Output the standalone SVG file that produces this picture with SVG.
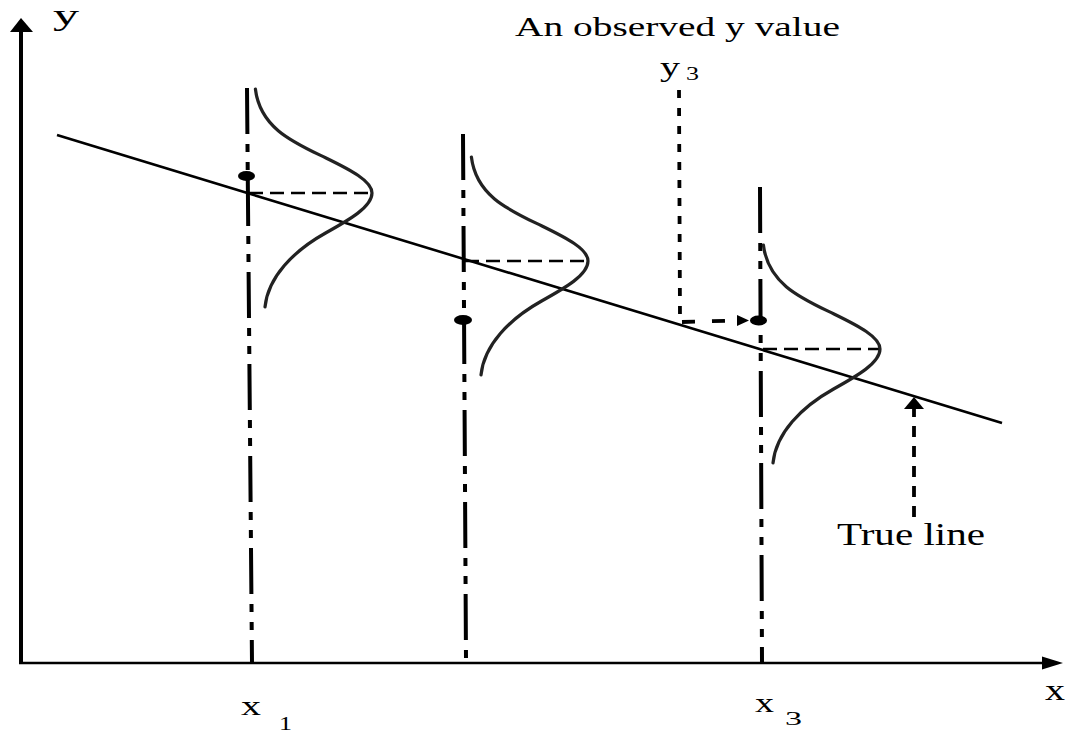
<svg xmlns="http://www.w3.org/2000/svg" width="1069" height="732" viewBox="0 0 1069 732">
<style>
.t{font-family:"Liberation Serif","Times New Roman",serif;fill:#000;}
.axis{stroke:#000;fill:none;}
.vline{stroke:#000;stroke-width:4;fill:none;stroke-dasharray:46 10 8 10 8 10;}
.hdash{stroke:#000;stroke-width:2.5;fill:none;stroke-dasharray:14 7;}
.curve{stroke:#222;stroke-width:3.2;fill:none;stroke-linecap:round;}
.ptr{stroke:#000;stroke-width:3.8;fill:none;}
.dot{fill:#000;}
.head{fill:#000;stroke:none;}
</style>
<defs>
<path id="bell" d="M-116.6,-104 C-111.8,-64 -76.8,-50 -46,-35 C-21.4,-23 0,-12 0,0 C0,14 -23.1,27 -46.4,40 C-78.6,58 -104,84 -107,114"/>
</defs>
<rect width="1069" height="732" fill="#fff"/>
<g id="axes">
<line class="axis" x1="21" y1="664" x2="21" y2="30" stroke-width="4"/>
<polygon class="head" points="21,18 33,32 10,32"/>
<line class="axis" x1="19" y1="663" x2="1044" y2="663" stroke-width="2.6"/>
<polygon class="head" points="1063,663 1042,656.5 1042,669.5"/>
<text class="t" x="53" y="25" font-size="30" textLength="26" lengthAdjust="spacingAndGlyphs">y</text>
<text class="t" x="1045" y="700" font-size="29" textLength="20" lengthAdjust="spacingAndGlyphs">x</text>
</g>
<g id="true-line">
<line x1="57" y1="135" x2="1002" y2="423" stroke="#000" stroke-width="2.6"/>
</g>
<g id="x1-group">
<line class="vline" x1="247" y1="88" x2="252" y2="663"/>
<line class="hdash" x1="249" y1="193" x2="372" y2="193"/>
<use href="#bell" class="curve" transform="translate(372,193)"/>
<ellipse class="dot" cx="246.5" cy="176" rx="8.5" ry="5"/>
<text class="t" x="241" y="715" font-size="27" textLength="20" lengthAdjust="spacingAndGlyphs">x</text>
<text class="t" x="279" y="730" font-size="18" textLength="13" lengthAdjust="spacingAndGlyphs">1</text>
</g>
<g id="x2-group">
<line class="vline" x1="463" y1="134" x2="466" y2="660"/>
<line class="hdash" x1="465" y1="261" x2="588" y2="261"/>
<use href="#bell" class="curve" transform="translate(588,261)"/>
<ellipse class="dot" cx="463" cy="320" rx="9" ry="5"/>
</g>
<g id="x3-group">
<line class="vline" x1="760" y1="187" x2="762" y2="663"/>
<line class="hdash" x1="763" y1="349" x2="880" y2="349"/>
<use href="#bell" class="curve" transform="translate(880,349)"/>
<ellipse class="dot" cx="758.5" cy="320.5" rx="8.5" ry="5"/>
<text class="t" x="755" y="712" font-size="28" textLength="19" lengthAdjust="spacingAndGlyphs">x</text>
<text class="t" x="785" y="725" font-size="19" textLength="17" lengthAdjust="spacingAndGlyphs">3</text>
</g>
<g id="observed-label">
<text class="t" x="515" y="36" font-size="27" textLength="325" lengthAdjust="spacingAndGlyphs">An observed y value</text>
<text class="t" x="660" y="76" font-size="27" textLength="20" lengthAdjust="spacingAndGlyphs">y</text>
<text class="t" x="686" y="80" font-size="18" textLength="13" lengthAdjust="spacingAndGlyphs">3</text>
</g>
<g id="true-line-label">
<text class="t" x="837" y="545" font-size="31" textLength="148" lengthAdjust="spacingAndGlyphs">True line</text>
</g>
<g id="connectors">
<path class="ptr" d="M679,90 L680,322" stroke-dasharray="8 10"/>
<path class="ptr" d="M682,322 L737,320.5" stroke-dasharray="13 17" stroke-width="3.2"/>
<polygon class="head" points="749,320.5 737,315 737,326"/>
<path class="ptr" d="M914,517 L914,409" stroke-dasharray="11 9"/>
<polygon class="head" points="914,397 924,409 904,409"/>
</g>
</svg>
